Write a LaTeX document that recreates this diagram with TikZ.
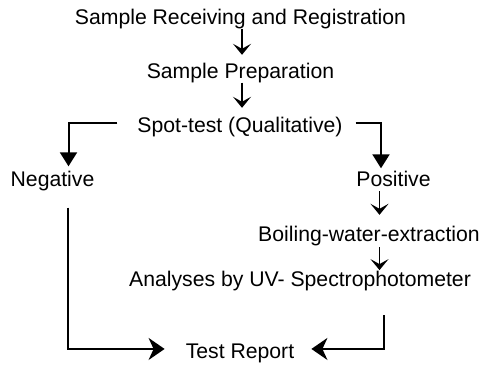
\documentclass[tikz,border=0pt]{standalone}
\usepackage{fontspec}
\setmainfont{Liberation Sans}
\usetikzlibrary{arrows.meta}
\begin{document}
\begin{tikzpicture}[x=1pt,y=-1pt,
  lbl/.style={anchor=base,inner sep=0pt,text height=15.2pt,text depth=4.5pt,font=\fontsize{21.2}{25}\selectfont},
  smallarr/.style={line width=1.5pt,-{Stealth[length=11pt,width=18pt,inset=5pt]}},
  brancharr/.style={line width=2pt,-{Triangle[length=14pt,width=17pt]}},
  finalarr/.style={line width=2pt,-{Stealth[length=16pt,width=22pt,inset=5pt]}}]
\useasboundingbox (0,0) rectangle (481,365);
\node[lbl] (title) at (240.5,24) {Sample Receiving and Registration};
\node[lbl] (prep) at (240.5,78) {Sample Preparation};
\node[lbl] (spot) at (240,132) {Spot-test (Qualitative)};
\node[lbl] (neg) at (52.5,186.5) {Negative};
\node[lbl] (pos) at (393.5,186.5) {Positive};
\node[lbl] (boil) at (369,241) {Boiling-water-extraction};
\node[lbl] (anal) at (300,286.5) {Analyses by UV- Spectrophotometer};
\node[lbl] (test) at (240,358.3) {Test Report};
% straight arrows
\draw[smallarr,shorten >=7.8pt] ([xshift=1.5pt]title.south) -- ([xshift=1.5pt]prep.north);
\draw[smallarr,shorten >=8.8pt] ([xshift=1.5pt]prep.south) -- ([xshift=1.5pt]prep.south |- spot.north);
% branches
\draw[brancharr] ([xshift=-20pt,yshift=3.3pt]spot.west) -| ([xshift=16pt,yshift=4.8pt]neg.north);
\draw[brancharr] ([xshift=13pt,yshift=3.3pt]spot.east) -| ([xshift=-12.5pt,yshift=2.8pt]pos.north);
\draw[smallarr,shorten >=10.8pt] ([xshift=-14pt]pos.south) -- ([xshift=-14pt]pos.south |- boil.north);
\draw[smallarr,shorten >=1pt] ([xshift=10.5pt,yshift=-1.5pt]boil.south) -- ([xshift=10.5pt]boil.south |- anal.north);
% final arrows
\draw[finalarr,shorten >=21pt] ([xshift=15.5pt,yshift=-16.5pt]neg.south) |- ([yshift=4pt]test.west);
\draw[finalarr,shorten >=17pt] ([xshift=84pt,yshift=-24pt]anal.south) |- ([yshift=4pt]test.east);
\end{tikzpicture}
\end{document}
